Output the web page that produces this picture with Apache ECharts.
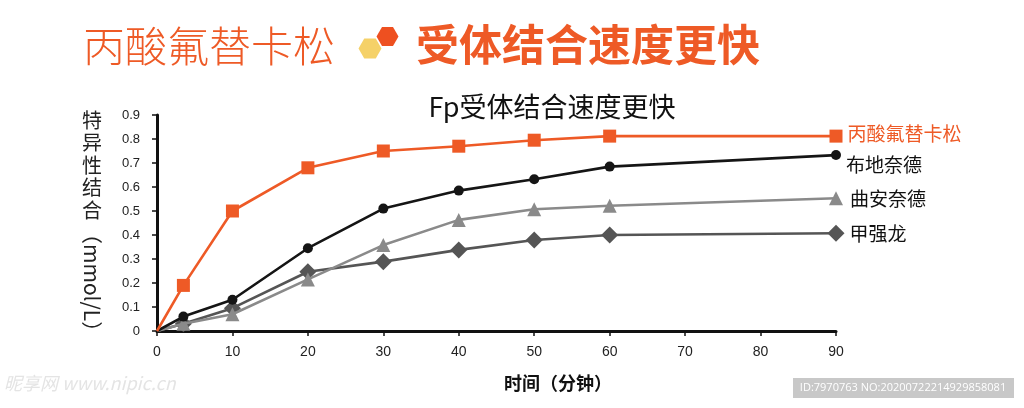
<!DOCTYPE html>
<html>
<head>
<meta charset="utf-8">
<script src="https://cdn.jsdelivr.net/npm/echarts@6/dist/echarts.min.js"></script>
<style>
html,body{margin:0;padding:0;background:#fff;}
#chart{width:1024px;height:408px;}
</style>
</head>
<body>
<div id="chart"></div>
<script>
// ---- data ----
const seriesNames = ['丙酸氟替卡松', '布地奈德', '曲安奈德', '甲强龙'];
const timePoints = [0, 3.5, 10, 20, 30, 40, 50, 60, 90];
const fluticasone = [0, 0.19, 0.50, 0.68, 0.75, 0.77, 0.795, 0.812, 0.812];
const budesonide = [0, 0.06, 0.13, 0.345, 0.51, 0.585, 0.632, 0.685, 0.733];
const triamcinolone = [0, 0.03, 0.07, 0.215, 0.358, 0.463, 0.507, 0.522, 0.553];
const methylpred = [0, 0.03, 0.095, 0.247, 0.289, 0.338, 0.379, 0.40, 0.407];
const xTickLabels = ['0', '10', '20', '30', '40', '50', '60', '70', '80', '90'];
const yTickLabels = ['0', '0.1', '0.2', '0.3', '0.4', '0.5', '0.6', '0.7', '0.8', '0.9'];

const ORANGE = '#ee5a26';
const CJK = '"Noto Sans CJK SC", sans-serif';
const LAT = '"Liberation Sans", Arial, sans-serif';

const chart = echarts.init(document.getElementById('chart'), null, {renderer: 'canvas'});

function buildData(vals, labelOffset, color, dist) {
  return timePoints.map((t, i) => {
    const item = {value: [t, vals[i]]};
    if (i === 0) { item.symbol = 'none'; }
    if (i === timePoints.length - 1) {
      item.label = {
        show: true, position: 'right', distance: dist, formatter: '{a}',
        fontFamily: CJK, fontSize: 19, color: color, offset: labelOffset
      };
    }
    return item;
  });
}

const seriesCfg = [
  {vals: fluticasone, color: ORANGE, symbol: 'rect', size: 13, off: [0, -2], lab: ORANGE, dist: 5},
  {vals: budesonide, color: '#151515', symbol: 'circle', size: 10, off: [-3, 10], lab: '#111', dist: 8},
  {vals: triamcinolone, color: '#8a8a8a', symbol: 'triangle', size: 14, off: [-1, 1], lab: '#111', dist: 8},
  {vals: methylpred, color: '#555555', symbol: 'diamond', size: 17, off: [-3, 0], lab: '#111', dist: 8}
];

const series = seriesCfg.map((c, k) => ({
  name: seriesNames[k],
  type: 'line',
  data: buildData(c.vals, c.off, c.lab, c.dist),
  symbol: c.symbol,
  symbolSize: c.size,
  showSymbol: true,
  lineStyle: {color: c.color, width: 2.6},
  itemStyle: {color: c.color},
  z: 10 - k,
  silent: true
}));

function hexPoints(cx, cy, r) {
  const p = [];
  for (let i = 0; i < 6; i++) { const a = i * Math.PI / 3; p.push([cx + r * Math.cos(a), cy + r * Math.sin(a)]); }
  return p;
}

chart.setOption({
  animation: false,
  backgroundColor: '#fff',
  title: [
    {text: 'Fp受体结合速度更快', left: 547, top: 88, textAlign: 'center',
     textStyle: {fontFamily: CJK, fontSize: 27, fontWeight: 'normal', color: '#111'}}
  ],
  grid: {left: 157, right: 188, top: 115, bottom: 77},
  xAxis: {
    type: 'value', min: 0, max: 90, interval: 10,
    axisLine: {lineStyle: {color: '#111', width: 3}},
    axisTick: {show: true, length: 5, lineStyle: {color: '#111', width: 1.5}},
    splitLine: {show: false},
    axisLabel: {
      formatter: v => xTickLabels[Math.round(v / 10)],
      fontFamily: LAT, fontSize: 14, color: '#222', margin: 14
    }
  },
  yAxis: {
    type: 'value', min: 0, max: 0.9, interval: 0.1,
    axisLine: {show: true, lineStyle: {color: '#111', width: 3}},
    axisTick: {show: true, length: 5, lineStyle: {color: '#111', width: 1.5}},
    splitLine: {show: false},
    axisLabel: {
      formatter: v => yTickLabels[Math.round(v * 10)],
      fontFamily: LAT, fontSize: 13, color: '#222', margin: 17
    }
  },
  graphic: [
    {type: 'text', left: 83, top: 25,
     style: {text: '丙酸氟替卡松', font: '300 42px ' + CJK, fill: ORANGE}},
    {type: 'polygon', shape: {points: hexPoints(370, 48.5, 11.5)}, style: {fill: '#f5d168'}},
    {type: 'polygon', shape: {points: hexPoints(387.5, 36.5, 11)}, style: {fill: '#ee5020'}},
    {type: 'text', left: 416, top: 23,
     style: {text: '受体结合速度更快', font: 'bold 43px ' + CJK, fill: ORANGE}},
    // y axis name: vertical
    {type: 'text', x: 92, y: 109,
     style: {text: '特\n异\n性\n结\n合', font: '20px ' + CJK, fill: '#222', lineHeight: 22.5, textAlign: 'center'}},
    {type: 'text', x: 81, y: 223, rotation: -Math.PI / 2,
     style: {text: '（mmol/L）', font: '21px ' + CJK, fill: '#222', textVerticalAlign: 'bottom'}},
    // x axis name
    {type: 'text', x: 558, y: 383,
     style: {text: '时间（分钟）', font: 'bold 18px ' + CJK, fill: '#111', textAlign: 'center', textVerticalAlign: 'middle'}},
    // watermarks
    {type: 'text', left: 4, top: 374,
     style: {text: '昵享网 www.nipic.cn', font: 'italic 18px ' + CJK, fill: '#e4e4e4'}},
    {type: 'rect', shape: {x: 793, y: 378, width: 221, height: 20}, style: {fill: '#c8c8c8'}},
    {type: 'text', x: 903, y: 388,
     style: {text: 'ID:7970763 NO:20200722214929858081', font: '11px "Open Sans", sans-serif', fill: '#fff', textAlign: 'center', textVerticalAlign: 'middle'}}
  ],
  series: series
});
</script>
</body>
</html>
